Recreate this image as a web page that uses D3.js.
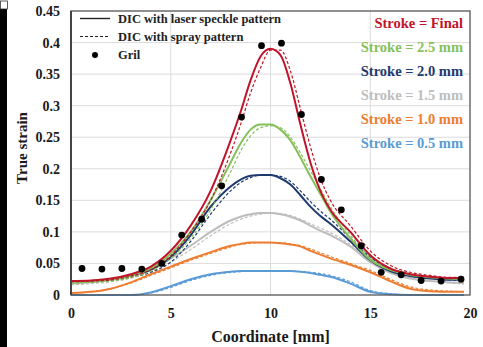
<!DOCTYPE html>
<html>
<head>
<meta charset="utf-8">
<script src="https://cdn.jsdelivr.net/npm/d3@7"></script>
<style>
body { margin: 0; background: #fff; }
svg { display: block; }
</style>
</head>
<body>
<div id="chart"></div>
<script>
// data
var coords = [0,1,2,3,4,5,6,7,8,8.5,9,9.5,10,10.5,11,11.5,12,12.5,13,14,15,16,17,18,19,19.7];

var finalLaser = [0.022,0.023,0.026,0.033,0.045,0.07,0.11,0.165,0.245,0.29,0.34,0.378,0.39,0.38,0.335,0.27,0.21,0.165,0.135,0.1,0.063,0.042,0.033,0.029,0.027,0.027];
var finalSpray = [0.021,0.022,0.024,0.03,0.04,0.062,0.1,0.15,0.225,0.27,0.32,0.36,0.388,0.388,0.355,0.295,0.235,0.185,0.15,0.11,0.07,0.047,0.036,0.031,0.028,0.028];
var s25Laser = [0.02,0.021,0.024,0.03,0.042,0.065,0.1,0.15,0.21,0.24,0.262,0.27,0.27,0.262,0.245,0.218,0.188,0.16,0.132,0.09,0.056,0.04,0.032,0.028,0.026,0.025];
var s25Spray = [0.019,0.02,0.022,0.027,0.038,0.058,0.09,0.135,0.195,0.228,0.252,0.265,0.268,0.265,0.25,0.225,0.197,0.168,0.14,0.095,0.06,0.043,0.034,0.029,0.026,0.025];
var s20Laser = [0.021,0.022,0.025,0.031,0.04,0.06,0.095,0.14,0.172,0.183,0.189,0.19,0.19,0.185,0.175,0.158,0.14,0.125,0.113,0.085,0.055,0.038,0.03,0.026,0.024,0.024];
var s20Spray = [0.02,0.021,0.023,0.028,0.036,0.052,0.085,0.128,0.165,0.178,0.186,0.19,0.19,0.188,0.18,0.165,0.148,0.133,0.12,0.09,0.06,0.04,0.031,0.027,0.024,0.023];
var s15Laser = [0.018,0.02,0.024,0.03,0.04,0.058,0.078,0.1,0.118,0.124,0.128,0.13,0.13,0.128,0.124,0.118,0.11,0.102,0.095,0.077,0.052,0.035,0.026,0.022,0.02,0.019];
var s15Spray = [0.016,0.018,0.021,0.027,0.036,0.052,0.072,0.094,0.113,0.12,0.125,0.128,0.13,0.129,0.126,0.12,0.113,0.106,0.099,0.08,0.056,0.037,0.027,0.022,0.019,0.017];
var s10Laser = [0.003,0.005,0.01,0.02,0.033,0.045,0.057,0.068,0.078,0.081,0.083,0.083,0.083,0.082,0.08,0.077,0.07,0.064,0.058,0.048,0.036,0.022,0.01,0.006,0.005,0.005];
var s10Spray = [0.003,0.005,0.01,0.019,0.031,0.043,0.055,0.066,0.076,0.08,0.082,0.083,0.083,0.083,0.081,0.078,0.073,0.067,0.061,0.05,0.039,0.025,0.013,0.008,0.006,0.005];
var s05Laser = [0,0,0,0,0.004,0.014,0.025,0.033,0.037,0.038,0.038,0.038,0.038,0.038,0.038,0.037,0.035,0.032,0.029,0.018,0.005,0.001,0,0,0,0];
var s05Spray = [0,0,0,0,0.003,0.012,0.023,0.031,0.036,0.037,0.038,0.038,0.038,0.038,0.038,0.037,0.036,0.034,0.031,0.021,0.007,0.002,0,0,0,0];

var grilX = [0.55,1.55,2.55,3.55,4.55,5.55,6.55,7.55,8.55,9.55,10.55,11.55,12.55,13.55,14.55,15.55,16.55,17.55,18.55,19.55];
var grilY = [0.042,0.041,0.042,0.041,0.05,0.095,0.12,0.173,0.282,0.395,0.399,0.286,0.183,0.135,0.078,0.036,0.032,0.023,0.022,0.025];

var strokeNames = ["Stroke = Final","Stroke = 2.5 mm","Stroke = 2.0 mm","Stroke = 1.5 mm","Stroke = 1.0 mm","Stroke = 0.5 mm"];
var strokeColors = ["#c0142a","#86c05a","#1f3a6e","#bdbdbd","#ed7d31","#5b9bd5"];
var laserSeries = [finalLaser, s25Laser, s20Laser, s15Laser, s10Laser, s05Laser];
var spraySeries = [finalSpray, s25Spray, s20Spray, s15Spray, s10Spray, s05Spray];

var xTicks = [0,5,10,15,20];
var yTicks = [0,0.05,0.1,0.15,0.2,0.25,0.3,0.35,0.4,0.45];

var w = 483, h = 347;
var plotL = 71, plotR = 470, plotT = 11, plotB = 295;

var svg = d3.select("#chart").append("svg")
  .attr("width", w)
  .attr("height", h)
  .style("font-family", "'Liberation Serif', 'Times New Roman', serif");

// black strip on the far left of the picture
svg.append("rect").attr("x", 0).attr("y", 9).attr("width", 7).attr("height", h - 9).attr("fill", "#000");
svg.append("rect").attr("x", 0.5).attr("y", 1).attr("width", 7).attr("height", 8).attr("fill", "#fff").attr("stroke", "#333").attr("stroke-width", 0.8);

var x = d3.scaleLinear().domain([0, 20]).range([plotL, plotR]);
var y = d3.scaleLinear().domain([0, 0.45]).range([plotB, plotT]);

// gridlines
svg.append("g")
  .selectAll("line")
  .data(yTicks.slice(1, -1))
  .enter().append("line")
  .attr("x1", plotL).attr("x2", plotR)
  .attr("y1", function(d) { return y(d); })
  .attr("y2", function(d) { return y(d); })
  .attr("stroke", "#dcdcdc").attr("stroke-width", 1);

svg.append("g")
  .selectAll("line")
  .data(xTicks.slice(1, -1))
  .enter().append("line")
  .attr("y1", plotT).attr("y2", plotB)
  .attr("x1", function(d) { return x(d); })
  .attr("x2", function(d) { return x(d); })
  .attr("stroke", "#dcdcdc").attr("stroke-width", 1);

// axes (labels only, frame drawn separately)
var xAxis = svg.append("g")
  .attr("transform", "translate(0," + plotB + ")")
  .call(d3.axisBottom(x).tickValues(xTicks).tickSize(0).tickPadding(13));
xAxis.select(".domain").remove();
xAxis.selectAll("text")
  .attr("font-size", "14px").attr("font-weight", "bold").attr("fill", "#1a1a1a")
  .style("font-family", "'Liberation Serif', serif");

var yAxis = svg.append("g")
  .attr("transform", "translate(" + plotL + ",0)")
  .call(d3.axisLeft(y).tickValues(yTicks).tickSize(0).tickPadding(11)
    .tickFormat(function(d) { return d3.format("~g")(d); }));
yAxis.select(".domain").remove();
yAxis.selectAll("text")
  .attr("font-size", "14px").attr("font-weight", "bold").attr("fill", "#1a1a1a")
  .style("font-family", "'Liberation Serif', serif");

// lines
var line = d3.line()
  .x(function(d) { return x(d[0]); })
  .y(function(d) { return y(d[1]); })
  .curve(d3.curveMonotoneX);

var lines = svg.append("g");
// draw from the smallest stroke up so the red sits on top
for (var i = laserSeries.length - 1; i >= 0; i--) {
  lines.append("path")
    .attr("d", line(d3.zip(coords, spraySeries[i])))
    .attr("fill", "none")
    .attr("stroke", strokeColors[i])
    .attr("stroke-width", 1.2)
    .attr("stroke-dasharray", "3,2");
  lines.append("path")
    .attr("d", line(d3.zip(coords, laserSeries[i])))
    .attr("fill", "none")
    .attr("stroke", strokeColors[i])
    .attr("stroke-width", 2);
}

// grid measurement dots
svg.append("g")
  .selectAll("circle")
  .data(d3.zip(grilX, grilY))
  .enter().append("circle")
  .attr("cx", function(d) { return x(d[0]); })
  .attr("cy", function(d) { return y(d[1]); })
  .attr("r", 3.4)
  .attr("fill", "#000");

// plot frame
svg.append("rect")
  .attr("x", plotL).attr("y", plotT)
  .attr("width", plotR - plotL).attr("height", plotB - plotT)
  .attr("fill", "none").attr("stroke", "#555").attr("stroke-width", 1.3);
svg.append("line")
  .attr("x1", plotL).attr("x2", plotL).attr("y1", plotT).attr("y2", plotB)
  .attr("stroke", "#444").attr("stroke-width", 2);

// legend, top left
var legend = svg.append("g").attr("font-size", "12.5px").attr("font-weight", "bold").attr("fill", "#222");
var legItems = ["DIC with laser speckle pattern", "DIC with spray pattern", "Gril"];
legend.selectAll("text")
  .data(legItems)
  .enter().append("text")
  .attr("x", 118)
  .attr("y", function(d, i) { return 23 + i * 18; })
  .text(function(d) { return d; });
legend.append("line").attr("x1", 80).attr("x2", 110).attr("y1", 18.5).attr("y2", 18.5)
  .attr("stroke", "#222").attr("stroke-width", 1.4);
legend.append("line").attr("x1", 80).attr("x2", 110).attr("y1", 36.5).attr("y2", 36.5)
  .attr("stroke", "#222").attr("stroke-width", 1).attr("stroke-dasharray", "3,2");
legend.append("circle").attr("cx", 95).attr("cy", 55).attr("r", 3).attr("fill", "#000");

// stroke labels, top right
svg.append("g")
  .selectAll("text")
  .data(strokeNames)
  .enter().append("text")
  .attr("x", 463)
  .attr("y", function(d, i) { return 28 + i * 24; })
  .attr("text-anchor", "end")
  .attr("font-size", "14.5px")
  .attr("font-weight", "bold")
  .attr("fill", function(d, i) { return strokeColors[i]; })
  .text(function(d) { return d; });

// axis titles
svg.append("text")
  .attr("x", (plotL + plotR) / 2)
  .attr("y", 342)
  .attr("text-anchor", "middle")
  .attr("font-size", "16px").attr("font-weight", "bold").attr("fill", "#1a1a1a")
  .text("Coordinate [mm]");

svg.append("text")
  .attr("transform", "translate(27," + ((plotT + plotB) / 2 - 5) + ") rotate(-90)")
  .attr("text-anchor", "middle")
  .attr("font-size", "15px").attr("font-weight", "bold").attr("fill", "#1a1a1a")
  .text("True  strain");
</script>
</body>
</html>
